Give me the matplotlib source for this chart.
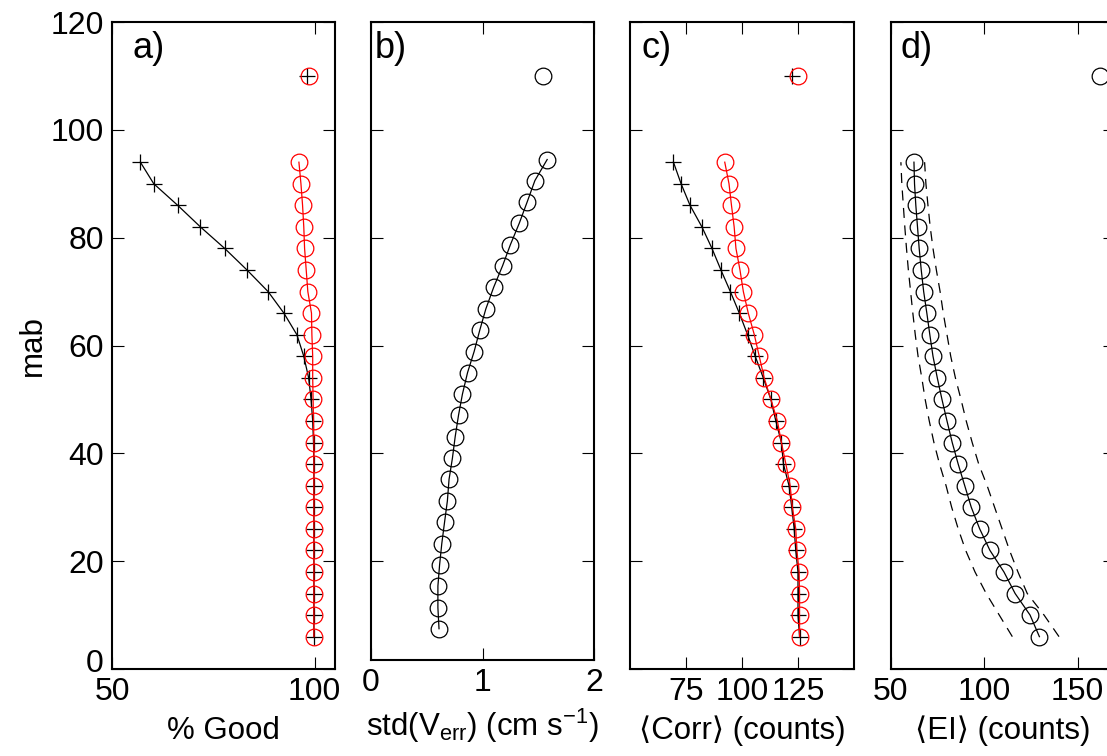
import matplotlib
matplotlib.use('Agg')
import matplotlib.pyplot as plt
import matplotlib.transforms as mtransforms

plt.rcParams['font.family'] = ['Liberation Sans', 'DejaVu Sans']
plt.rcParams['mathtext.fontset'] = 'custom'
plt.rcParams['mathtext.rm'] = 'Liberation Sans'
plt.rcParams['mathtext.it'] = 'Liberation Sans'

# Bin heights (meters above bottom) shared by panels a, c, d
mab = [6, 10, 14, 18, 22, 26, 30, 34, 38, 42, 46, 50, 54, 58, 62, 66, 70, 74, 78, 82, 86, 90, 94]
mab_top = 110
# Panel b is drawn on slightly shifted heights
mab_b = [7.5, 11.4, 15.4, 19.3, 23.3, 27.3, 31.2, 35.2, 39.1, 43.1, 47.1, 51.0, 55.0, 58.9,
         62.9, 66.8, 70.8, 74.8, 78.7, 82.7, 86.6, 90.6, 94.5]

# a) percent good
good_black = [99.8, 99.8, 99.8, 99.8, 99.8, 99.8, 99.8, 99.8, 99.8, 99.7, 99.5, 99.1, 98.5,
              97.3, 95.6, 92.4, 88.5, 83.3, 77.8, 71.8, 66.2, 60.3, 57.0]
good_red = [99.8, 99.8, 99.8, 99.8, 99.8, 99.8, 99.8, 99.8, 99.8, 99.8, 99.7, 99.6, 99.5,
            99.5, 99.3, 99.2, 98.3, 97.9, 97.5, 97.3, 97.0, 96.6, 96.1]
good_black_top = 98.1
good_red_top = 98.7

# b) std of error velocity
verr_std = [0.61, 0.60, 0.60, 0.615, 0.635, 0.66, 0.685, 0.70, 0.73, 0.755, 0.785, 0.82, 0.866,
            0.925, 0.976, 1.03, 1.10, 1.18, 1.25, 1.33, 1.40, 1.47, 1.58]
verr_std_top = 1.54

# c) correlation
corr_black = [125.7, 125.0, 125.0, 125.0, 124.0, 123.3, 122.2, 121.0, 118.5, 117.6, 115.1, 112.9,
              109.5, 105.9, 102.5, 98.8, 94.8, 90.6, 86.6, 82.1, 76.8, 72.8, 69.4]
corr_red = [125.7, 125.7, 125.7, 125.5, 124.5, 124.0, 122.5, 121.5, 119.6, 117.6, 115.8, 112.9,
            109.9, 107.7, 105.5, 102.8, 100.6, 99.1, 97.3, 96.5, 95.3, 94.2, 92.3]
corr_black_top = 122.3
corr_red_top = 124.8

# d) echo intensity mean and spread
ei_mean = [129.5, 124.5, 116.5, 110.5, 103.0, 97.5, 93.0, 89.5, 86.0, 82.8, 80.0, 77.3, 74.8,
           72.5, 70.8, 69.2, 67.5, 66.2, 65.1, 64.2, 63.3, 62.6, 62.3]
ei_low = [115.0, 108.0, 101.0, 95.0, 90.0, 86.0, 82.5, 79.5, 76.0, 73.0, 70.5, 68.3, 66.5,
          64.5, 63.0, 61.7, 60.5, 59.3, 58.3, 57.4, 56.6, 55.8, 55.3]
ei_high = [140.0, 132.0, 123.0, 118.0, 113.5, 109.5, 105.5, 101.5, 97.0, 93.5, 90.3, 87.5, 84.5,
           82.0, 80.0, 78.0, 76.3, 74.3, 72.5, 71.0, 69.8, 68.7, 68.0]
ei_top = 162

fig = plt.figure(figsize=(11.07, 7.56), dpi=100)
W, H = 1107, 756
FS_TICK = 23
FS_LAB = 22.5
FS_PANEL = 26


def make_axes(left, right, top, bottom):
    ax = fig.add_axes([left / W, 1 - bottom / H, (right - left) / W, (bottom - top) / H])
    for s in ax.spines.values():
        s.set_linewidth(1.5)
    ax.tick_params(direction='in', length=8.5, width=0.8, top=True, right=True,
                   labelsize=FS_TICK, pad=6)
    ax.set_yticks([0, 20, 40, 60, 80, 100, 120])
    return ax


ms_o = 12
ms_p = 11
lw = 0.9

# a)
ax = make_axes(112, 335, 22, 669)
ax.plot(good_black, mab, 'k-', lw=lw, marker='+', ms=ms_p, mew=lw)
ax.plot(good_red, mab, 'r-', lw=lw, marker='o', ms=ms_o, mfc='none', mew=lw)
ax.plot(good_black_top, mab_top, 'k+', ms=ms_p, mew=lw)
ax.plot(good_red_top, mab_top, 'ro', ms=ms_o, mfc='none', mew=lw)
ax.set_xlim(50, 105)
ax.set_ylim(0, 120)
ax.set_xticks([50, 100])
ax.set_ylabel('mab', fontsize=FS_LAB, labelpad=2)
ax.set_xlabel('% Good', fontsize=FS_LAB, labelpad=6)
ax.text(55, 115, 'a)', fontsize=FS_PANEL, va='center')
fig.canvas.draw()
# nudge the "0" label up a little so it clears the "50" below it
lab0 = ax.get_yticklabels()[0]
lab0.set_transform(lab0.get_transform() + mtransforms.ScaledTranslation(0, 6 / 72, fig.dpi_scale_trans))

# b)
ax = make_axes(371, 594, 22, 660)
ax.plot(verr_std, mab_b, 'k-', lw=lw, marker='o', ms=ms_o, mfc='none', mew=lw)
ax.plot(verr_std_top, mab_top, 'ko', ms=ms_o, mfc='none', mew=lw)
ax.set_xlim(0, 2)
ax.set_ylim(1.7, 120)
ax.set_xticks([0, 1, 2])
ax.set_yticklabels([])
ax.set_xlabel(r'std(V$_{\mathrm{err}}$) (cm s$^{-1}$)', fontsize=FS_LAB, labelpad=6)
ax.text(0.03, 115, 'b)', fontsize=FS_PANEL, va='center')

# c)
ax = make_axes(630, 854, 22, 669)
ax.plot(corr_black, mab, 'k-', lw=lw, marker='+', ms=ms_p, mew=lw)
ax.plot(corr_red, mab, 'r-', lw=lw, marker='o', ms=ms_o, mfc='none', mew=lw)
ax.plot(corr_black_top, mab_top, 'k+', ms=ms_p, mew=lw)
ax.plot(corr_red_top, mab_top, 'ro', ms=ms_o, mfc='none', mew=lw)
ax.set_xlim(50, 150)
ax.set_ylim(0, 120)
ax.set_xticks([75, 100, 125])
ax.set_yticklabels([])
ax.set_xlabel('\u27e8Corr\u27e9 (counts)', fontsize=FS_LAB, labelpad=6)
ax.text(55, 115, 'c)', fontsize=FS_PANEL, va='center')

# d)
ax = make_axes(891, 1115, 22, 669)
ax.plot(ei_mean, mab, 'k-', lw=lw, marker='o', ms=ms_o, mfc='none', mew=lw)
ax.plot(ei_low, mab, 'k--', lw=lw, dashes=(8, 6))
ax.plot(ei_high, mab, 'k--', lw=lw, dashes=(8, 6))
ax.plot(ei_top, mab_top, 'ko', ms=ms_o, mfc='none', mew=lw)
ax.set_xlim(50, 170)
ax.set_ylim(0, 120)
ax.set_xticks([50, 100, 150])
ax.set_yticklabels([])
ax.set_xlabel('\u27e8EI\u27e9 (counts)', fontsize=FS_LAB, labelpad=6)
ax.text(55, 115, 'd)', fontsize=FS_PANEL, va='center')

fig.savefig('out.png', dpi=100)
